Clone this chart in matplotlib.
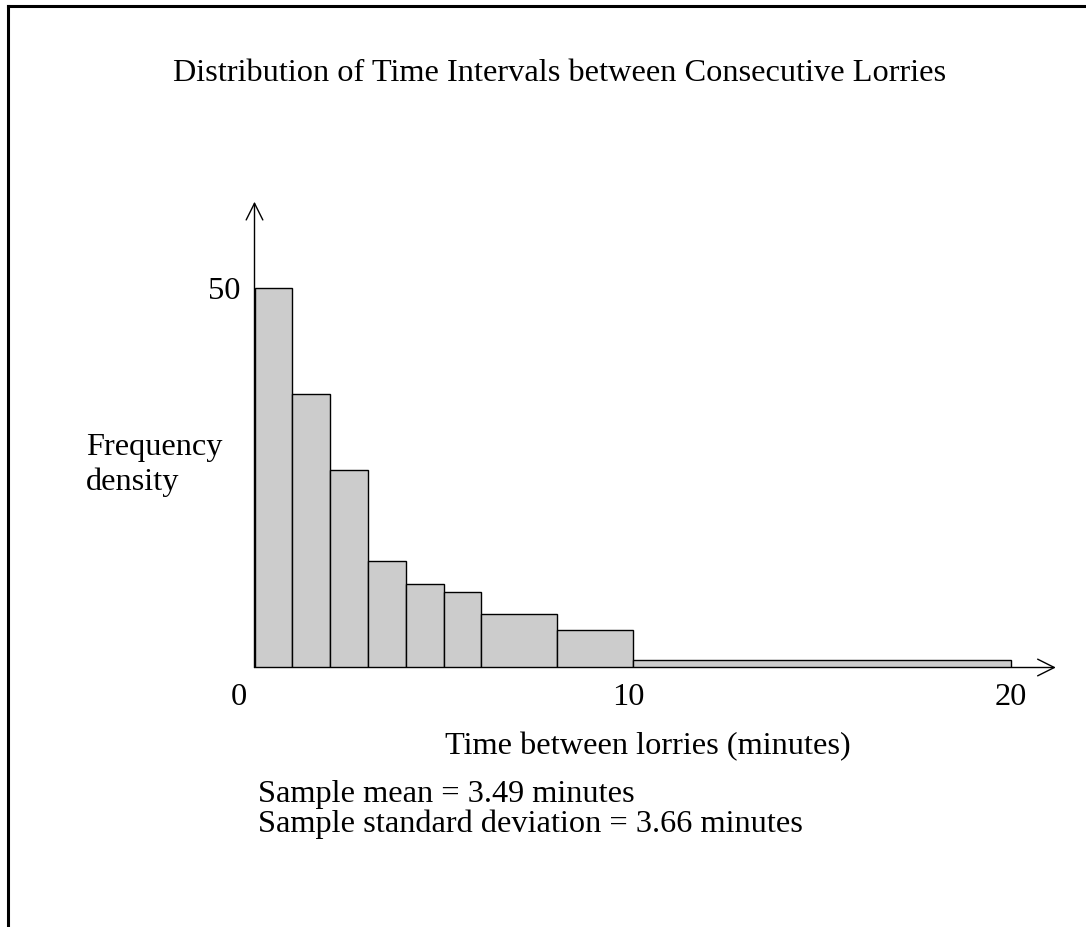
import matplotlib
matplotlib.use("Agg")
import matplotlib.pyplot as plt
from matplotlib.lines import Line2D

plt.rcParams['font.family'] = ['Liberation Serif', 'DejaVu Serif']

# Data
bin_edges = [0, 1, 2, 3, 4, 5, 6, 8, 10, 20]
freq_density = [50, 36, 26, 14, 11, 10, 7, 5, 1]
x_tick_values = [0, 10, 20]
x_tick_labels = ["0", "10", "20"]
y_tick_values = [50]
y_tick_labels = ["50"]

title = "Distribution of Time Intervals between Consecutive Lorries"
xlabel = "Time between lorries (minutes)"
ylabel_lines = ["Frequency", "density"]
stats_lines = ["Sample mean = 3.49 minutes",
               "Sample standard deviation = 3.66 minutes"]

W, H = 1086, 928
fig = plt.figure(figsize=(W / 100, H / 100), dpi=100)

# axes geometry in pixels (from top-left)
x0_px, px_per_x = 254.5, 37.8
y0_px, px_per_y = 668.5, 7.586
xmax, ymax = 22.0, 62.0
ax = fig.add_axes([x0_px / W, (H - y0_px) / H,
                   xmax * px_per_x / W, ymax * px_per_y / H])
ax.set_xlim(0, xmax)
ax.set_ylim(0, ymax)
ax.axis('off')

widths = [b - a for a, b in zip(bin_edges[:-1], bin_edges[1:])]
ax.bar(bin_edges[:-1], freq_density, width=widths, align='edge',
       color='#cccccc', edgecolor='black', linewidth=1.0, zorder=2)

arrow_kw = dict(arrowstyle='->,head_length=0.6,head_width=0.3',
                mutation_scale=20, lw=1.0, color='black', shrinkA=0, shrinkB=0)
ax.annotate('', xy=(21.2, 0), xytext=(0, 0), arrowprops=arrow_kw,
            annotation_clip=False, zorder=3)
ax.annotate('', xy=(0, 61.4), xytext=(0, 0), arrowprops=arrow_kw,
            annotation_clip=False, zorder=3)

fs = 23.3
# tick labels (placed relative to data coordinates)
x_offsets = {0: -0.42, 10: -0.1, 20: 0.0}
for v, lab in zip(x_tick_values, x_tick_labels):
    ax.text(v + x_offsets[v], -36.5 / px_per_y, lab, ha='center',
            va='baseline', fontsize=fs)
for v, lab in zip(y_tick_values, y_tick_labels):
    ax.text(-13.5 / px_per_x, v - 10 / px_per_y, lab, ha='right',
            va='baseline', fontsize=fs)

# texts in figure pixel coords (from top-left)
def ftext(x, y, s, **kw):
    fig.text(x / W, 1 - y / H, s, fontsize=fs, va='baseline', **kw)

ftext(560, 81, title, ha='center')
ftext(648, 754, xlabel, ha='center')
ftext(86, 455, ylabel_lines[0], ha='left')
ftext(86, 490, ylabel_lines[1], ha='left')
ftext(258, 802, stats_lines[0], ha='left')
ftext(258, 832, stats_lines[1], ha='left')

# figure border (top and left)
fig.add_artist(Line2D([7.5 / W, 1.0], [1 - 6.5 / H, 1 - 6.5 / H],
                      transform=fig.transFigure, color='black', lw=2.2))
fig.add_artist(Line2D([7.5 / W, 7.5 / W], [0, 1 - 6.5 / H],
                      transform=fig.transFigure, color='black', lw=2.2,
                      solid_capstyle='projecting'))

fig.savefig("out.png", dpi=100)
